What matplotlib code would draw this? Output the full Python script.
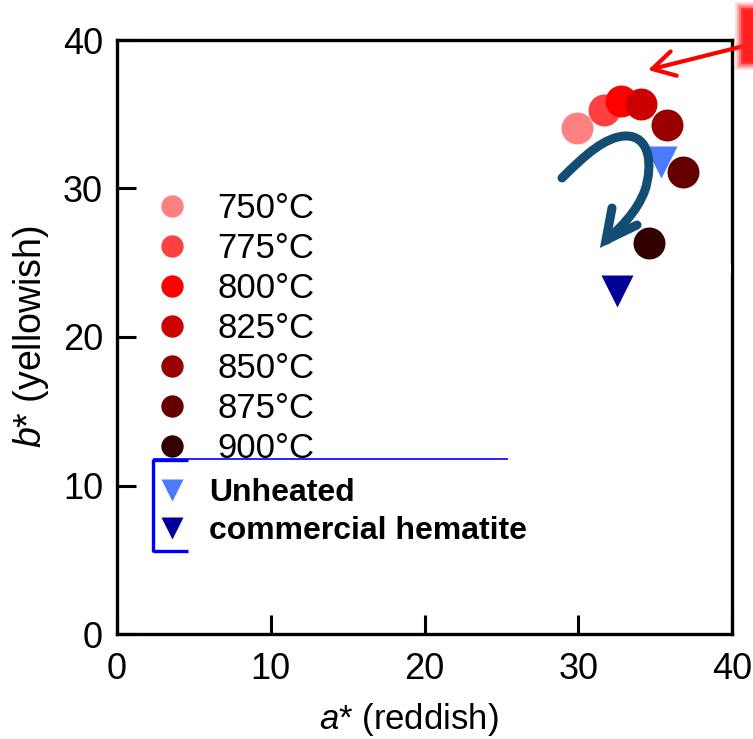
import matplotlib
matplotlib.use("Agg")
import matplotlib.pyplot as plt
from matplotlib.lines import Line2D
from matplotlib.patches import FancyArrowPatch, PathPatch, Rectangle
from matplotlib.path import Path

plt.rcParams['font.family'] = ['Liberation Sans', 'DejaVu Sans']
plt.rcParams['mathtext.fontset'] = 'custom'
plt.rcParams['mathtext.it'] = 'Liberation Sans:italic'
plt.rcParams['mathtext.rm'] = 'Liberation Sans'

# heated samples (a*, b*)
temps = ['750°C', '775°C', '800°C', '825°C', '850°C', '875°C', '900°C']
a_heated = [29.9, 31.7, 32.8, 34.1, 35.8, 36.8, 34.6]
b_heated = [34.1, 35.3, 35.9, 35.7, 34.3, 31.1, 26.3]
heat_colors = ['#ff8080', '#ff4040', '#ff0000', '#cc0000',
               '#990000', '#660000', '#330000']

# references
ref_labels = ['Unheated', 'commercial hematite']
a_ref = [35.4, 32.5]
b_ref = [31.8, 23.1]
ref_colors = ['#4a7bff', '#000099']

W, H = 753, 739
fig = plt.figure(figsize=(W / 100, H / 100), dpi=100)
ax = fig.add_axes([117 / W, 1 - 634 / H, (732 - 117) / W, (634 - 40) / H])


def px(x, y):
    # figure pixel (from top-left) -> figure fraction
    return x / W, 1 - y / H


ref_handles = []
for a, b, c, lab in zip(a_ref, b_ref, ref_colors, ref_labels):
    h, = ax.plot(a, b, 'v', ms=23, color=c, mec='none', label=lab, zorder=3)
    ref_handles.append(h)

heat_handles = []
for a, b, c, lab in zip(a_heated, b_heated, heat_colors, temps):
    h, = ax.plot(a, b, 'o', ms=23, color=c, mec='none', label=lab, zorder=4)
    heat_handles.append(h)

ax.set_xlim(0, 40)
ax.set_ylim(0, 40)
ax.set_xticks([0, 10, 20, 30, 40])
ax.set_yticks([0, 10, 20, 30, 40])
ax.tick_params(direction='in', length=14, width=2.2, labelsize=26)
ax.tick_params(axis='x', pad=13)
ax.tick_params(axis='y', pad=10)
for s in ax.spines.values():
    s.set_linewidth(2.4)

ax.set_xlabel('$a$* (reddish)', fontsize=25)
ax.set_ylabel('$b$* (yellowish)', fontsize=27)
ax.xaxis.set_label_coords(0.475, -0.112)
ax.yaxis.set_label_coords(-0.108, 0.5)

leg1 = ax.legend(handles=heat_handles, loc='upper left',
                 bbox_to_anchor=px(155, 192), bbox_transform=fig.transFigure,
                 frameon=False, fontsize=25, markerscale=0.7, handlelength=1.0,
                 handletextpad=0.8, labelspacing=0.2, borderpad=0, borderaxespad=0)
ax.add_artist(leg1)
leg2 = ax.legend(handles=ref_handles, loc='upper left',
                 bbox_to_anchor=px(156, 478), bbox_transform=fig.transFigure,
                 frameon=False, prop={'size': 23, 'weight': 'bold'},
                 markerscale=0.7, handlelength=1.0, handletextpad=0.65,
                 labelspacing=0.26, borderpad=0, borderaxespad=0)

# blue bracket around the reference legend
blue = '#0000ff'
for (x0, y0, x1, y1, lw) in [(153, 459, 508, 459, 1.2), (153, 459, 153, 552, 2.4),
                             (153, 460, 188, 460, 2.4), (153, 551, 188, 551, 2.4)]:
    p0, p1 = px(x0, y0), px(x1, y1)
    fig.add_artist(Line2D([p0[0], p1[0]], [p0[1], p1[1]], color=blue, lw=lw,
                          transform=fig.transFigure, solid_capstyle='butt'))

# curved trend arrow (figure pixels)
arrow_blue = '#124d73'
curve_px = [(562, 178), (585, 155), (605, 137), (625, 136),
            (650, 135), (653, 165), (645, 190),
            (637, 212), (620, 228), (607, 240)]
codes = [Path.MOVETO] + [Path.CURVE4] * 9
curve = Path([px(x, y) for x, y in curve_px], codes)
fig.add_artist(PathPatch(curve, fill=False, lw=6.5, edgecolor=arrow_blue,
                         capstyle='round', joinstyle='round',
                         transform=fig.transFigure, zorder=5))
head_px = [(612, 208), (606, 240), (637, 225)]
fig.add_artist(Line2D([px(x, y)[0] for x, y in head_px], [px(x, y)[1] for x, y in head_px],
                      color=arrow_blue, lw=6.5, solid_capstyle='round',
                      solid_joinstyle='miter', transform=fig.transFigure, zorder=5))

# red arrow coming in from the right edge
fig.add_artist(FancyArrowPatch(px(760, 42), px(648, 70), arrowstyle='->,head_length=0.8,head_width=0.45',
                               mutation_scale=20, lw=3, color='#ff0000',
                               transform=fig.transFigure, shrinkA=0, shrinkB=0))
for i, al in enumerate([0.15, 0.25, 0.4, 0.7, 1.0]):
    g = 5 - i
    x0, y0 = px(745 - 2 * g, 60 + 2 * g)
    fig.add_artist(Rectangle((x0, y0), 20 / W + 4 * g / W, (48 + 4 * g) / H,
                             transform=fig.transFigure, color='#ff2020', alpha=al, lw=0))

fig.text(*px(722, 268), ')', color='white', fontsize=24, va='center')

fig.savefig('out.png', dpi=100)
